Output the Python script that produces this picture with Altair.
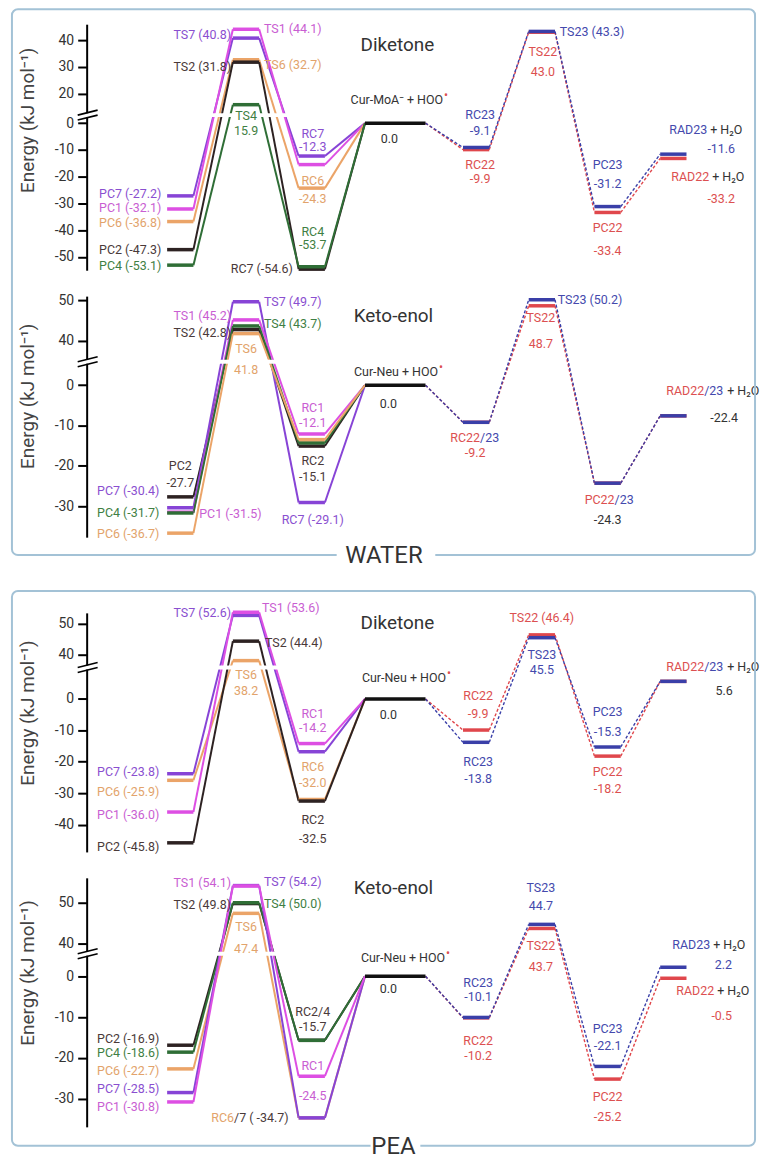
import altair as alt
import pandas as pd

# ============================ DATA (kJ mol-1) ============================
# right-hand lists are ordered: RC, TS, PC, RAD
# ---- WATER / Diketone
WD_SITES = ["7", "1", "6", "2", "4"]
WD_PC = [-27.2, -32.1, -36.8, -47.3, -53.1]
WD_TS = [40.8, 44.1, 32.7, 31.8, 15.9]
WD_RC = [-12.3, -15.5, -24.3, -54.6, -53.7]
WD_P22 = [-9.9, 43.0, -33.4, -13.2]
WD_P23 = [-9.1, 43.3, -31.2, -11.6]
WD_TICKS = [40, 30, 20, 0, -10, -20, -30, -40, -50]

# ---- WATER / Keto-enol
WK_SITES = ["2", "7", "1", "4", "6"]
WK_PC = [-27.7, -30.4, -31.5, -31.7, -36.7]
WK_TS = [42.8, 49.7, 45.2, 43.7, 41.8]
WK_RC = [-15.1, -29.1, -12.1, -14.3, -13.5]
WK_P22 = [-9.2, 48.7, -24.3, -7.6]
WK_P23 = [-9.2, 50.2, -24.3, -7.6]
WK_TICKS = [50, 40, 0, -10, -20, -30]

# ---- PEA / Diketone
PD_SITES = ["7", "6", "1", "2"]
PD_PC = [-23.8, -25.9, -36.0, -45.8]
PD_TS = [52.6, 38.2, 53.6, 44.4]
PD_RC = [-16.8, -32.0, -14.2, -32.5]
PD_P22 = [-9.9, 46.4, -18.2, 5.6]
PD_P23 = [-13.8, 45.5, -15.3, 5.6]
PD_TICKS = [50, 40, 0, -10, -20, -30, -40]

# ---- PEA / Keto-enol
PK_SITES = ["2", "4", "6", "7", "1"]
PK_PC = [-16.9, -18.6, -22.7, -28.5, -30.8]
PK_TS = [49.8, 50.0, 47.4, 54.2, 54.1]
PK_RC = [-15.7, -15.7, -34.7, -34.7, -24.5]
PK_P22 = [-10.2, 43.7, -25.2, -0.5]
PK_P23 = [-10.1, 44.7, -22.1, 2.2]
PK_TICKS = [50, 40, 0, -10, -20, -30]

# labels: (text, colour key, stage, level value, dx px, dy px, align)
WD_LABELS = [
    ("TS7 (40.8)", "t7", "TS", 40.8, -15, -3, "right"),
    ("TS1 (44.1)", "t1", "TS", 44.1, 18, 0, "left"),
    ("TS2 (31.8)", "t2", "TS", 31.8, -15, 5, "right"),
    ("TS6 (32.7)", "t6", "TS", 32.7, 18, 5, "left"),
    ("TS4", "t4", "TS", 15.9, 0, 11, "center"),
    ("15.9", "t4", "TS", 15.9, 0, 26, "center"),
    ("RC7", "t7", "RC", -12.3, 1, -22, "center"),
    ("-12.3", "t7", "RC", -12.3, 1, -9, "center"),
    ("RC6", "t6", "RC", -24.3, 1, -7, "center"),
    ("-24.3", "t6", "RC", -24.3, 1, 11, "center"),
    ("RC4", "t4", "RC", -53.7, 1, -35, "center"),
    ("-53.7", "t4", "RC", -53.7, 1, -22, "center"),
    ("RC7 (-54.6)", "t2", "RC", -54.6, -19, 0, "right"),
    ("PC7 (-27.2)", "t7", "PC", -27.2, -19, -2, "right"),
    ("PC1 (-32.1)", "t1", "PC", -32.1, -19, -1, "right"),
    ("PC6 (-36.8)", "t6", "PC", -36.8, -19, 1, "right"),
    ("PC2 (-47.3)", "t2", "PC", -47.3, -19, 0, "right"),
    ("PC4 (-53.1)", "t4", "PC", -53.1, -19, 1, "right"),
    ("Cur-MoA⁻ + HOO", "tk", "CUR", 0.0, 48, -23, "right"),
    ("•", "t22", "CUR", 0.0, 49, -28, "left"),
    ("0.0", "tk", "CUR", 0.0, -6, 16, "center"),
    ("RC23", "t23", "RC2", -9.1, 4, -33, "center"),
    ("-9.1", "t23", "RC2", -9.1, 4, -17, "center"),
    ("RC22", "t22", "RC2", -9.9, 4, 15, "center"),
    ("-9.9", "t22", "RC2", -9.9, 4, 30, "center"),
    ("TS23 (43.3)", "t23", "TS2", 43.3, 18, 1, "left"),
    ("TS22", "t22", "TS2", 43.0, 1, 20, "center"),
    ("43.0", "t22", "TS2", 43.0, 1, 40, "center"),
    ("PC23", "t23", "PC2", -31.2, 0, -42, "center"),
    ("-31.2", "t23", "PC2", -31.2, 0, -23, "center"),
    ("PC22", "t22", "PC2", -33.4, 0, 16, "center"),
    ("-33.4", "t22", "PC2", -33.4, 0, 39, "center"),
    ("RAD23", "t23", "RAD", -11.6, 34, -24, "right"),
    ("+ H₂O", "tk", "RAD", -11.6, 37, -24, "left"),
    ("-11.6", "t23", "RAD", -11.6, 62, -5, "right"),
    ("RAD22", "t22", "RAD", -13.2, 36, 19, "right"),
    ("+ H₂O", "tk", "RAD", -13.2, 39, 19, "left"),
    ("-33.2", "t22", "RAD", -13.2, 62, 41, "right"),
]

WK_LABELS = [
    ("TS7 (49.7)", "t7", "TS", 49.7, 18, 0, "left"),
    ("TS1 (45.2)", "t1", "TS", 45.2, -15, -4, "right"),
    ("TS4 (43.7)", "t4", "TS", 43.7, 18, -2, "left"),
    ("TS2 (42.8)", "t2", "TS", 42.8, -15, 3, "right"),
    ("TS6", "t6", "TS", 41.8, 0, 15, "center"),
    ("41.8", "t6", "TS", 41.8, 0, 37, "center"),
    ("PC2", "t2", "PC", -27.7, 0, -31, "center"),
    ("-27.7", "t2", "PC", -27.7, 0, -14, "center"),
    ("PC7 (-30.4)", "t7", "PC", -30.4, -21, -17, "right"),
    ("PC4 (-31.7)", "t4", "PC", -31.7, -21, 0, "right"),
    ("PC6 (-36.7)", "t6", "PC", -36.7, -21, 1, "right"),
    ("PC1 (-31.5)", "t1", "PC", -31.5, 19, 2, "left"),
    ("RC1", "t1", "RC", -12.1, 1, -26, "center"),
    ("-12.1", "t1", "RC", -12.1, 1, -11, "center"),
    ("RC2", "t2", "RC", -15.1, 1, 15, "center"),
    ("-15.1", "t2", "RC", -15.1, 1, 31, "center"),
    ("RC7 (-29.1)", "t7", "RC", -29.1, 1, 18, "center"),
    ("Cur-Neu + HOO", "tk", "CUR", 0.0, 43, -13, "right"),
    ("•", "t22", "CUR", 0.0, 44, -18, "left"),
    ("0.0", "tk", "CUR", 0.0, -7, 19, "center"),
    ("RC22", "t22", "RC2", -9.2, 4, 16, "right"),
    ("/23", "t23", "RC2", -9.2, 4, 16, "left"),
    ("-9.2", "t22", "RC2", -9.2, -1, 31, "center"),
    ("TS23 (50.2)", "t23", "TS2", 50.2, 16, 0, "left"),
    ("TS22", "t22", "TS2", 48.7, -1, 12, "center"),
    ("48.7", "t22", "TS2", 48.7, -1, 38, "center"),
    ("PC22", "t22", "PC2", -24.3, 7, 17, "right"),
    ("/23", "t23", "PC2", -24.3, 7, 17, "left"),
    ("-24.3", "tk", "PC2", -24.3, 0, 37, "center"),
    ("RAD22", "t22", "RAD", -7.6, 31, -25, "right"),
    ("/23", "t23", "RAD", -7.6, 31, -25, "left"),
    ("+ H₂O", "tk", "RAD", -7.6, 54, -25, "left"),
    ("-22.4", "tk", "RAD", -7.6, 51, 2, "center"),
]

PD_LABELS = [
    ("TS7 (52.6)", "t7", "TS", 52.6, -15, -2, "right"),
    ("TS1 (53.6)", "t1", "TS", 53.6, 16, -4, "left"),
    ("TS2 (44.4)", "t2", "TS", 44.4, 19, 2, "left"),
    ("TS6", "t6", "TS", 38.2, 0, 14, "center"),
    ("38.2", "t6", "TS", 38.2, 0, 31, "center"),
    ("PC7 (-23.8)", "t7", "PC", -23.8, -21, -2, "right"),
    ("PC6 (-25.9)", "t6", "PC", -25.9, -21, 12, "right"),
    ("PC1 (-36.0)", "t1", "PC", -36.0, -21, 3, "right"),
    ("PC2 (-45.8)", "t2", "PC", -45.8, -21, 4, "right"),
    ("RC1", "t1", "RC", -14.2, 1, -30, "center"),
    ("-14.2", "t1", "RC", -14.2, 1, -16, "center"),
    ("RC6", "t6", "RC", -32.0, 1, -33, "center"),
    ("-32.0", "t6", "RC", -32.0, 1, -17, "center"),
    ("RC2", "t2", "RC", -32.5, 1, 19, "center"),
    ("-32.5", "t2", "RC", -32.5, 1, 38, "center"),
    ("Cur-Neu + HOO", "tk", "CUR", 0.0, 51, -21, "right"),
    ("•", "t22", "CUR", 0.0, 52, -26, "left"),
    ("0.0", "tk", "CUR", 0.0, -7, 16, "center"),
    ("RC22", "t22", "RC2", -9.9, 2, -34, "center"),
    ("-9.9", "t22", "RC2", -9.9, 2, -16, "center"),
    ("RC23", "t23", "RC2", -13.8, 2, 20, "center"),
    ("-13.8", "t23", "RC2", -13.8, 2, 37, "center"),
    ("TS22 (46.4)", "t22", "TS2", 46.4, 0, -17, "center"),
    ("TS23", "t23", "TS2", 45.5, 0, 17, "center"),
    ("45.5", "t23", "TS2", 45.5, 0, 32, "center"),
    ("PC23", "t23", "PC2", -15.3, 0, -35, "center"),
    ("-15.3", "t23", "PC2", -15.3, 0, -15, "center"),
    ("PC22", "t22", "PC2", -18.2, 0, 16, "center"),
    ("-18.2", "t22", "PC2", -18.2, 0, 33, "center"),
    ("RAD22", "t22", "RAD", 5.6, 31, -14, "right"),
    ("/23", "t23", "RAD", 5.6, 31, -14, "left"),
    ("+ H₂O", "tk", "RAD", 5.6, 54, -14, "left"),
    ("5.6", "tk", "RAD", 5.6, 51, 10, "center"),
]

PK_LABELS = [
    ("TS1 (54.1)", "t1", "TS", 54.1, -15, -3, "right"),
    ("TS7 (54.2)", "t7", "TS", 54.2, 18, -4, "left"),
    ("TS2 (49.8)", "t2", "TS", 49.8, -15, 1, "right"),
    ("TS4 (50.0)", "t4", "TS", 50.0, 18, 1, "left"),
    ("TS6", "t6", "TS", 47.4, 0, 14, "center"),
    ("47.4", "t6", "TS", 47.4, 0, 36, "center"),
    ("PC2 (-16.9)", "t2", "PC", -16.9, -21, -6, "right"),
    ("PC4 (-18.6)", "t4", "PC", -18.6, -21, 1, "right"),
    ("PC6 (-22.7)", "t6", "PC", -22.7, -21, 2, "right"),
    ("PC7 (-28.5)", "t7", "PC", -28.5, -21, -4, "right"),
    ("PC1 (-30.8)", "t1", "PC", -30.8, -21, 5, "right"),
    ("RC2/4", "t2", "RC", -15.7, 1, -28, "center"),
    ("-15.7", "t2", "RC", -15.7, 1, -13, "center"),
    ("RC1", "t1", "RC", -24.5, 1, -10, "center"),
    ("-24.5", "t1", "RC", -24.5, 1, 20, "center"),
    ("RC6", "t6", "RC", -34.7, -78, 0, "right"),
    ("/7 ( -34.7)", "t2", "RC", -34.7, -78, 0, "left"),
    ("Cur-Neu + HOO", "tk", "CUR", 0.0, 50, -18, "right"),
    ("•", "t22", "CUR", 0.0, 51, -23, "left"),
    ("0.0", "tk", "CUR", 0.0, -7, 13, "center"),
    ("RC23", "t23", "RC2", -10.1, 2, -35, "center"),
    ("-10.1", "t23", "RC2", -10.1, 2, -21, "center"),
    ("RC22", "t22", "RC2", -10.2, 2, 23, "center"),
    ("-10.2", "t22", "RC2", -10.2, 2, 38, "center"),
    ("TS23", "t23", "TS2", 44.7, -1, -37, "center"),
    ("44.7", "t23", "TS2", 44.7, -1, -18, "center"),
    ("TS22", "t22", "TS2", 43.7, -1, 18, "center"),
    ("43.7", "t22", "TS2", 43.7, -1, 39, "center"),
    ("PC23", "t23", "PC2", -22.1, 0, -38, "center"),
    ("-22.1", "t23", "PC2", -22.1, 0, -21, "center"),
    ("PC22", "t22", "PC2", -25.2, 0, 18, "center"),
    ("-25.2", "t22", "PC2", -25.2, 0, 38, "center"),
    ("RAD23", "t23", "RAD", 2.2, 37, -22, "right"),
    ("+ H₂O", "tk", "RAD", 2.2, 40, -22, "left"),
    ("2.2", "t23", "RAD", 2.2, 59, -2, "right"),
    ("RAD22", "t22", "RAD", -0.5, 41, 13, "right"),
    ("+ H₂O", "tk", "RAD", -0.5, 44, 13, "left"),
    ("-0.5", "t22", "RAD", -0.5, 59, 38, "right"),
]

# ============================ STYLE / LAYOUT ============================
FONT = "Roboto"
LABEL_FS = 12.5
CKEYS = ["1", "2", "4", "6", "7", "22", "23", "cur",
         "t1", "t2", "t4", "t6", "t7", "t22", "t23", "tk"]
CCOLS = ["#dd4fe3", "#2d2222", "#2f6e36", "#eba468", "#8744d6", "#e0474c", "#3a3fa8", "#111111",
         "#c95ed2", "#4a3a3a", "#3f7f44", "#e2a36b", "#8a4fd0", "#dc5050", "#4449ad", "#333333"]
W = 668
X_DOMAIN = [-1.424, 8.697]
PXU = W / (X_DOMAIN[1] - X_DOMAIN[0])
STAGE_X = {"PC": 0.0, "TS": 1.0, "RC": 2.0, "CUR": 3.27,
           "RC2": 4.5, "TS2": 5.5, "PC2": 6.5, "RAD": 7.5}
HALF = {"CUR": 0.46}
SHIFT_AT = 10
GEOM = {
    "WD": dict(lo=-55.0, hi=37.0, h=247, off=9, brk=3.0, ty=96),
    "WK": dict(lo=-37.7, hi=22.1, h=242, off=29, brk=5.8, ty=100),
    "PD": dict(lo=-48.7, hi=27.4, h=240, off=26, brk=10.0, ty=100),
    "PK": dict(lo=-36.9, hi=24.1, h=250, off=32, brk=5.5, ty=95),
}
BOX_COLOR = "#a3c2d6"


def hw(st):
    return HALF.get(st, 0.2)


def panel(key, sites, pc, ts, rc, p22, p23, ticks, labels, title, tpos, box=None):
    g = GEOM[key]
    ppu = g["h"] / (g["hi"] - g["lo"])

    def py(v):
        return v - g["off"] if v >= SHIFT_AT else v

    xs = alt.Scale(domain=X_DOMAIN, nice=False, zero=False)
    ys = alt.Scale(domain=[g["lo"], g["hi"]], nice=False, zero=False)
    cs = alt.Scale(domain=CKEYS, range=CCOLS)
    col = alt.Color("c:N", scale=cs, legend=None)

    tick_vals = [py(t) for t in ticks]
    yaxis = alt.Axis(
        values=tick_vals,
        labelExpr=f"datum.value > {g['brk']} ? '' + (datum.value + {g['off']}) : '' + datum.value",
        title="Energy (kJ mol⁻¹)", titleX=-59, titleY=g["ty"], titleAngle=270,
        titleAlign="center", titleBaseline="middle", titleFont=FONT, titleFontSize=19,
        titleFontWeight="normal", titleColor="#444",
        labelFont=FONT, labelFontSize=14, labelColor="#333", labelPadding=4,
        labelOverlap=False, tickSize=9, tickWidth=2, tickColor="black",
        domainColor="black", domainWidth=2, grid=False)

    def Y(f):
        return alt.Y(f, type="quantitative", scale=ys, axis=yaxis)

    def X(f):
        return alt.X(f, type="quantitative", scale=xs, axis=None)

    # levels
    lev = []
    for s, a, b, c in zip(sites, pc, ts, rc):
        for st, v in (("PC", a), ("TS", b), ("RC", c)):
            lev.append(dict(x1=STAGE_X[st] - hw(st), x2=STAGE_X[st] + hw(st), y=py(v), c=s))
    lev.append(dict(x1=STAGE_X["CUR"] - hw("CUR"), x2=STAGE_X["CUR"] + hw("CUR"), y=0.0, c="cur"))
    for k, vals in (("22", p22), ("23", p23)):
        for st, v in zip(("RC2", "TS2", "PC2", "RAD"), vals):
            lev.append(dict(x1=STAGE_X[st] - hw(st), x2=STAGE_X[st] + hw(st), y=py(v), c=k))

    # connections
    solid, dashed = [], []
    for s, a, b, c in zip(sites, pc, ts, rc):
        pts = [("PC", a), ("TS", b), ("RC", c), ("CUR", 0.0)]
        for (s1, v1), (s2, v2) in zip(pts[:-1], pts[1:]):
            solid.append(dict(x1=STAGE_X[s1] + hw(s1), y1=py(v1),
                              x2=STAGE_X[s2] - hw(s2), y2=py(v2), c=s))
    for k, vals in (("22", p22), ("23", p23)):
        pts = [("CUR", 0.0)] + list(zip(("RC2", "TS2", "PC2", "RAD"), vals))
        for (s1, v1), (s2, v2) in zip(pts[:-1], pts[1:]):
            dashed.append(dict(x1=STAGE_X[s1] + hw(s1), y1=py(v1),
                               x2=STAGE_X[s2] - hw(s2), y2=py(v2), c=k))

    lab = pd.DataFrame([
        dict(x=STAGE_X[st] + dx / PXU, y=py(v) - dy / ppu, t=txt, c=ck, a=al,
             fs=12 if txt == "•" else LABEL_FS)
        for (txt, ck, st, v, dx, dy, al) in labels])

    L = []
    L.append(alt.Chart(pd.DataFrame(solid)).mark_rule(strokeWidth=2).encode(
        x=X("x1"), x2="x2:Q", y=Y("y1"), y2="y2:Q", color=col))
    L.append(alt.Chart(pd.DataFrame(dashed)).mark_rule(strokeWidth=1.4, strokeDash=[3, 2]).encode(
        x=X("x1"), x2="x2:Q", y=Y("y1"), y2="y2:Q", color=col))
    band = pd.DataFrame({"x1": [X_DOMAIN[0] - 4 / PXU],
                         "x2": [STAGE_X["CUR"] - hw("CUR")], "y": [g["brk"]]})
    L.append(alt.Chart(band).mark_rule(color="white", strokeWidth=4).encode(
        x=X("x1"), x2="x2:Q", y=Y("y")))
    L.append(alt.Chart(pd.DataFrame(lev)).mark_rule(strokeWidth=3.5).encode(
        x=X("x1"), x2="x2:Q", y=Y("y"), color=col))
    bk = pd.DataFrame({"y": [g["brk"]]})
    for o1, o2 in ((0, -5), (5, 0)):
        L.append(alt.Chart(bk).mark_rule(color="black", strokeWidth=1.6,
                                         yOffset=o1, y2Offset=o2).encode(
            x=alt.value(-9), x2=alt.value(11), y=Y("y"), y2="y:Q"))
    for al in ("left", "right", "center"):
        L.append(alt.Chart(lab).transform_filter(alt.datum.a == al).mark_text(
            align=al, baseline="middle", font=FONT).encode(
            x=X("x"), y=Y("y"),
            text="t:N", color=col, size=alt.Size("fs:Q", scale=None)))
    one = pd.DataFrame({"k": [0]})
    L.append(alt.Chart(one).mark_text(text=title, font=FONT, fontSize=19, color="#333",
                                      align="center", baseline="middle").encode(
        x=alt.value(tpos[0]), y=alt.value(tpos[1])))
    if box is not None:
        L.append(alt.Chart(one).mark_rect(fillOpacity=0, stroke=BOX_COLOR, strokeWidth=2,
                                          cornerRadius=6).encode(
            x=alt.value(-75), x2=alt.value(671),
            y=alt.value(box["top"]), y2=alt.value(box["bottom"])))
        L.append(alt.Chart(one).mark_rect(color="white").encode(
            x=alt.value(box["mx"] - box["mw"] / 2), x2=alt.value(box["mx"] + box["mw"] / 2),
            y=alt.value(box["bottom"] - 4), y2=alt.value(box["bottom"] + 4)))
        L.append(alt.Chart(one).mark_text(text=box["text"], font=FONT, fontSize=24,
                                          color="#333", align="center",
                                          baseline="middle").encode(
            x=alt.value(box["tx"]), y=alt.value(box["bottom"] + box["dy"])))
    return alt.layer(*L).properties(width=W, height=g["h"])


p1 = panel("WD", WD_SITES, WD_PC, WD_TS, WD_RC, WD_P22, WD_P23, WD_TICKS, WD_LABELS,
           "Diketone", (312, 21))
p2 = panel("WK", WK_SITES, WK_PC, WK_TS, WK_RC, WK_P22, WK_P23, WK_TICKS, WK_LABELS,
           "Keto-enol", (308, 20),
           box=dict(top=-288, bottom=260, text="WATER", tx=298.5, mx=300.5, mw=99, dy=1))
p3 = panel("PD", PD_SITES, PD_PC, PD_TS, PD_RC, PD_P22, PD_P23, PD_TICKS, PD_LABELS,
           "Diketone", (312, 10))
p4 = panel("PK", PK_SITES, PK_PC, PK_TS, PK_RC, PK_P22, PK_P23, PK_TICKS, PK_LABELS,
           "Keto-enol", (308, 10),
           box=dict(top=-288, bottom=269, text="PEA", tx=308, mx=310, mw=50, dy=1))

spacer = alt.Chart(pd.DataFrame({"v": [0]})).mark_point(opacity=0).encode(
    x=alt.X("v:Q", axis=None), y=alt.Y("v:Q", axis=None)).properties(width=W, height=24)

chart = alt.vconcat(p1, p2, spacer, p3, p4, spacing=26, bounds="flush").properties(
    padding={"left": 11, "top": 6, "right": 2, "bottom": 2}
).configure_view(stroke=None)

chart.save("out.html", embed_options={"renderer": "svg", "actions": False})
